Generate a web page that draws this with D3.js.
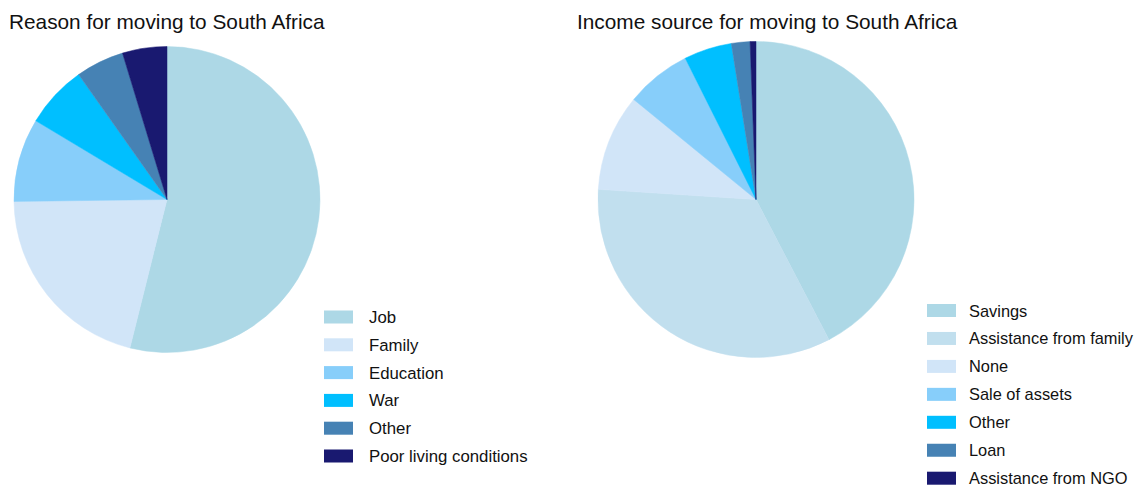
<!DOCTYPE html>
<html><head><meta charset="utf-8">
<script src="https://cdn.jsdelivr.net/npm/d3@7"></script>
<style>html,body{margin:0;padding:0;background:#fff;}svg{display:block;font-family:"Liberation Sans",Arial,Helvetica,sans-serif;}</style>
</head><body>
<svg id="chart" width="1140" height="486"></svg>
<script>
const reasonCategories = ["Job","Family","Education","War","Other","Poor living conditions"];
const reasonValues = [53.9, 20.9, 8.8, 6.6, 5.1, 4.7];
const incomeCategories = ["Savings","Assistance from family","None","Sale of assets","Other","Loan","Assistance from NGO"];
const incomeValues = [42.4, 33.7, 9.9, 6.7, 4.9, 1.9, 0.6];
const reasonColors = ["#add8e6","#d1e5f8","#87cefa","#00bfff","#4682b4","#191970"];
const incomeColors = ["#add8e6","#c1dfee","#d1e5f8","#87cefa","#00bfff","#4682b4","#191970"];

const svg = d3.select("#chart");

function drawPie(cfg){
  const g = svg.append("g");
  g.append("text").attr("x", cfg.titleX).attr("y", 29).attr("font-size", 20.8).attr("fill", "#111").text(cfg.title);
  const color = d3.scaleOrdinal().domain(cfg.cats).range(cfg.colors);
  const pie = d3.pie().sort(null).value(d => d.v);
  const data = pie(cfg.cats.map((c,i)=>({c, v: cfg.vals[i]})));
  const arc = d3.arc().innerRadius(0).outerRadius(cfg.r);
  g.append("g").attr("transform", `translate(${cfg.cx},${cfg.cy})`)
    .selectAll("path").data(data).join("path")
    .attr("d", arc).attr("fill", d => color(d.data.c))
    .attr("stroke", d => color(d.data.c)).attr("stroke-width", 0.5);
  const y = d3.scalePoint().domain(cfg.cats).range([cfg.legY0, cfg.legY0 + cfg.legStep*(cfg.cats.length-1)]);
  const lg = g.append("g");
  const items = lg.selectAll("g").data(cfg.cats).join("g").attr("transform", d => `translate(0,${y(d)})`);
  items.append("rect").attr("x", cfg.legX).attr("y", -6.5).attr("width", 29).attr("height", 13)
    .attr("fill", d => color(d));
  items.append("text").attr("x", cfg.legX + cfg.textOff).attr("y", 6).attr("font-size", cfg.legFont).attr("fill", "#111").text(d => d);
}

drawPie({title:"Reason for moving to South Africa", titleX:9, cats:reasonCategories, vals:reasonValues, colors:reasonColors,
  cx:167, cy:199.5, r:153, legX:324, legY0:317, legStep:27.8, textOff:45, legFont:16.8});
drawPie({title:"Income source for moving to South Africa", titleX:577, cats:incomeCategories, vals:incomeValues, colors:incomeColors,
  cx:756, cy:199.5, r:158, legX:927, legY0:310.5, legStep:27.95, textOff:42, legFont:16.4});
</script>
</body></html>
